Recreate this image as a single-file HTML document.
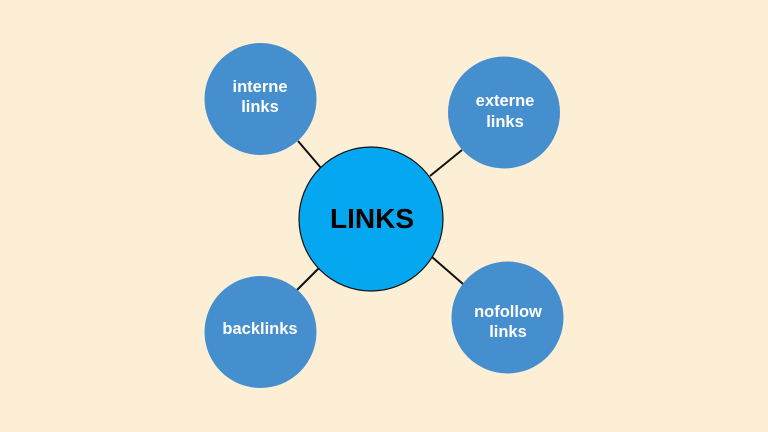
<!DOCTYPE html>
<html><head><meta charset="utf-8"><style>
html,body{margin:0;padding:0;background:#fdefd6;}
svg{display:block;}
text{font-family:"Liberation Sans",sans-serif;}
</style></head><body>
<svg width="768" height="432" viewBox="0 0 768 432" xmlns="http://www.w3.org/2000/svg">
<rect width="768" height="432" fill="#fdefd6"/>
<g stroke="#111" stroke-width="2">
<line x1="298" y1="141" x2="321" y2="168"/>
<line x1="462" y1="150" x2="430" y2="176"/>
<line x1="297" y1="290" x2="319" y2="268"/>
<line x1="432" y1="257" x2="463" y2="284"/>
</g>
<circle cx="260.5" cy="99" r="56" fill="#458fcf"/>
<circle cx="504" cy="112.5" r="56" fill="#458fcf"/>
<circle cx="260.5" cy="332" r="56" fill="#458fcf"/>
<circle cx="507.5" cy="317.5" r="56" fill="#458fcf"/>
<circle cx="371" cy="219" r="72" fill="#05a8f0" stroke="#111" stroke-width="1.2"/>
<g fill="#fff" font-size="16.5" font-weight="bold" text-anchor="middle">
<text x="260" y="92">interne</text>
<text x="260" y="112">links</text>
<text x="505" y="106">externe</text>
<text x="505" y="127">links</text>
<text x="260" y="334">backlinks</text>
<text x="508" y="317">nofollow</text>
<text x="508" y="337">links</text>
</g>
<text x="372" y="228" font-size="28" font-weight="bold" text-anchor="middle" fill="#000">LINKS</text>
</svg>
</body></html>
